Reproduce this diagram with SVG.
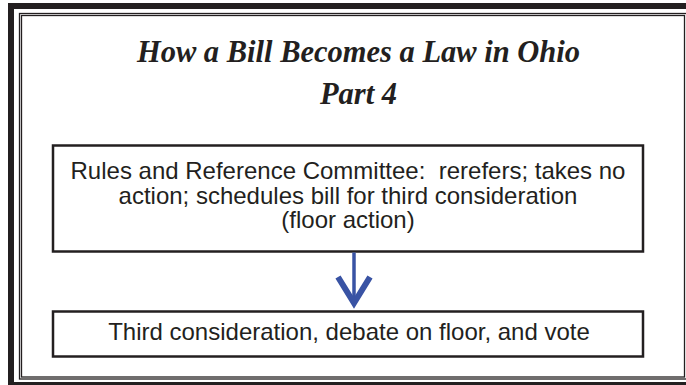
<svg xmlns="http://www.w3.org/2000/svg" width="686" height="385" viewBox="0 0 686 385">
<style>
.frame{fill:none;stroke:#231f20}
.box{fill:#fff;stroke:#231f20;stroke-width:2.5}
.title{font-family:"Liberation Serif","Times New Roman",serif;font-weight:bold;font-style:italic;font-size:30.5px;fill:#231f20;text-anchor:middle}
.lbl{font-family:"Liberation Sans",Arial,sans-serif;font-size:24px;fill:#231f20;text-anchor:middle;white-space:pre}
.arrow{fill:none;stroke:#3953a4}
</style>
<rect width="686" height="385" fill="#fff"/>
<g id="frame">
<rect class="frame" x="11" y="6" width="690" height="379" stroke-width="6"/>
<rect class="frame" x="19.5" y="13.5" width="680" height="365.5" stroke-width="1.3" stroke="#555"/>
<rect class="frame" x="21.5" y="15.5" width="663" height="361.5" stroke-width="1.3"/>
</g>
<g id="title">
<text class="title" x="358.5" y="62">How a Bill Becomes a Law in Ohio</text>
<text class="title" x="358.5" y="104">Part 4</text>
</g>
<g id="node1">
<rect class="box" x="53" y="145.5" width="590" height="106"/>
<text class="lbl" x="348" y="179">Rules and Reference Committee:  rerefers; takes no</text>
<text class="lbl" x="348" y="203.5">action; schedules bill for third consideration</text>
<text class="lbl" x="348" y="228">(floor action)</text>
</g>
<g id="node2">
<rect class="box" x="53" y="311.5" width="590" height="45"/>
<text class="lbl" x="349" y="340">Third consideration, debate on floor, and vote</text>
</g>
<g id="connectors">
<line class="arrow" x1="354" y1="252.5" x2="354" y2="303" stroke-width="3.5"/>
<polyline class="arrow" points="338,277 354,303 370,277" stroke-width="6" stroke-linejoin="miter"/>
</g>
</svg>
